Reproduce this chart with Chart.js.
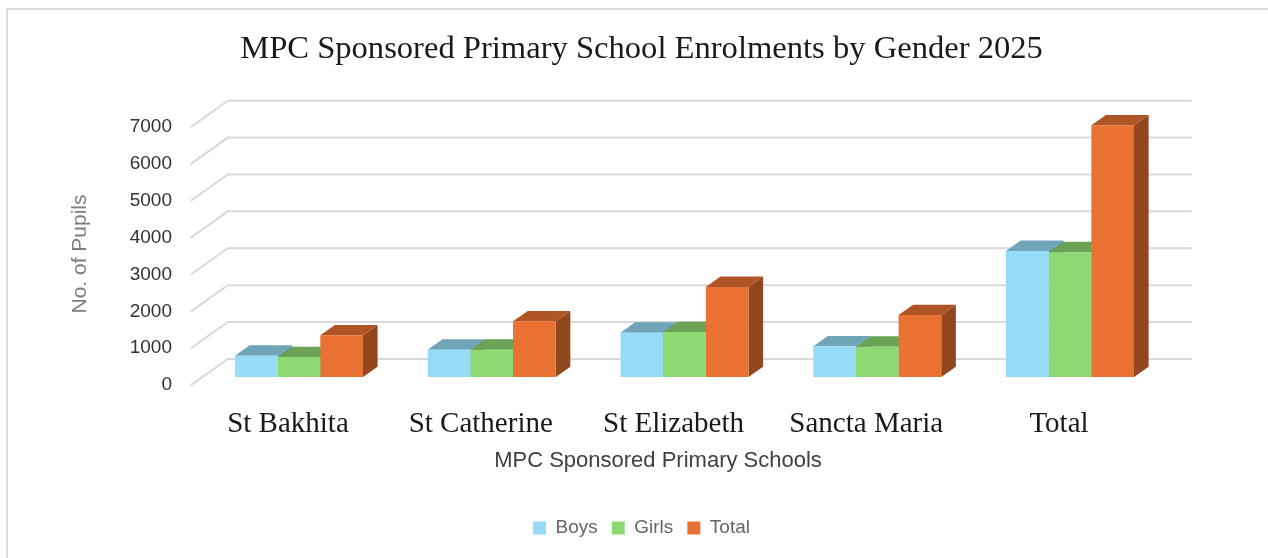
<!DOCTYPE html>
<html>
<head>
<meta charset="utf-8">
<style>
  html, body { margin: 0; padding: 0; background: #fff; }
  .frame { position: absolute; left: 6px; top: 8px; right: 0; bottom: 0; border-left: 2px solid #dcdcdc; border-top: 2px solid #dcdcdc; }
  #myChart { position: absolute; left: 0; top: 0; }
</style>
<script src="https://cdn.jsdelivr.net/npm/chart.js@4"></script>
</head>
<body>
<div class="frame"></div>
<canvas id="myChart" width="1268" height="558"></canvas>
<script>
const schools = ["St Bakhita", "St Catherine", "St Elizabeth", "Sancta Maria", "Total"];
const boys = [581, 744, 1205, 834, 3421];
const girls = [543, 744, 1222, 825, 3386];
const totals = [1132, 1512, 2444, 1683, 6826];

const SANS = '"Liberation Sans", Arial, sans-serif';
const SERIF = '"Liberation Serif", serif';

// side and top colours are the front colours in shade
const colors = {
  Boys: { front: "#95DCF7", top: "#70A5B9", side: "#5E8B9C" },
  Girls: { front: "#8ED973", top: "#6AA355", side: "#598948" },
  Total: { front: "#E97132", top: "#AF5525", side: "#93471F" },
};

// offsets from the plane the bars stand in
const barDepth = { x: 14.6, y: -10.4 };
const wallBack = { x: 25.2, y: -18.2 };
const wallFront = { x: -12, y: 8.3 };

function fillPoly(ctx, points, color) {
  ctx.fillStyle = color;
  ctx.beginPath();
  points.forEach((p, i) => (i ? ctx.lineTo(p[0], p[1]) : ctx.moveTo(p[0], p[1])));
  ctx.closePath();
  ctx.fill();
}

const depth3d = {
  id: "depth3d",
  beforeDatasetsDraw(chart) {
    const { ctx, chartArea, scales } = chart;
    ctx.save();
    // floor and back wall lines
    ctx.strokeStyle = "#d9d9d9";
    ctx.lineWidth = 2;
    scales.y.ticks.forEach((tick) => {
      const y = scales.y.getPixelForValue(tick.value);
      ctx.beginPath();
      ctx.moveTo(chartArea.left + wallFront.x, y + wallFront.y);
      ctx.lineTo(chartArea.left + wallBack.x, y + wallBack.y);
      ctx.lineTo(chartArea.right + wallBack.x, y + wallBack.y);
      ctx.stroke();
    });
    // side and top of each bar, the front face comes from chart.js
    schools.forEach((school, i) => {
      chart.data.datasets.forEach((ds, d) => {
        const bar = chart.getDatasetMeta(d).data[i];
        const c = colors[ds.label];
        const l = bar.x - bar.width / 2;
        const r = bar.x + bar.width / 2;
        const dx = barDepth.x;
        const dy = barDepth.y;
        fillPoly(ctx, [[r, bar.y], [r + dx, bar.y + dy], [r + dx, bar.base + dy], [r, bar.base]], c.side);
        fillPoly(ctx, [[l, bar.y], [l + dx, bar.y + dy], [r + dx, bar.y + dy], [r, bar.y]], c.top);
      });
    });
    ctx.restore();
  },
  afterDraw(chart) {
    const { ctx } = chart;
    ctx.save();
    ctx.textAlign = "center";
    ctx.textBaseline = "middle";
    ctx.fillStyle = "#404040";
    ctx.font = "22px " + SANS;
    ctx.fillText("MPC Sponsored Primary Schools", 658, 461);
    ctx.translate(80, 254);
    ctx.rotate(-Math.PI / 2);
    ctx.fillStyle = "#7f7f7f";
    ctx.font = "21px " + SANS;
    ctx.fillText("No. of Pupils", 0, 0);
    ctx.restore();
  },
};

const ctx = document.getElementById("myChart").getContext("2d");

const makeDataset = (label, data) => ({
  label: label,
  data: data,
  backgroundColor: colors[label].front,
  borderWidth: 0,
  barPercentage: 1,
  categoryPercentage: 0.664,
});

new Chart(ctx, {
  type: "bar",
  data: {
    labels: schools,
    datasets: [makeDataset("Boys", boys), makeDataset("Girls", girls), makeDataset("Total", totals)],
  },
  plugins: [depth3d],
  options: {
    responsive: false,
    animation: false,
    layout: { padding: { left: 15, right: 0, top: 0, bottom: 10.5 } },
    plugins: {
      title: {
        display: true,
        text: "MPC Sponsored Primary School Enrolments by Gender 2025",
        color: "#1a1a1a",
        font: { family: SERIF, size: 32.6, weight: "normal" },
        padding: { top: 29.4, bottom: 50.4 },
      },
      legend: {
        position: "bottom",
        labels: {
          boxWidth: 13,
          boxHeight: 13,
          padding: 14,
          color: "#666666",
          font: { family: SANS, size: 19 },
        },
      },
      tooltip: { enabled: false },
    },
    scales: {
      x: {
        grid: { display: false },
        border: { display: false },
        ticks: {
          color: "#1a1a1a",
          font: { family: SERIF, size: 29 },
          padding: 22.1,
          labelOffset: -11,
          maxRotation: 0,
          autoSkip: false,
        },
        afterFit: (scale) => { scale.height = 127.4; },
      },
      y: {
        min: 0,
        max: 7000,
        grid: { display: false },
        border: { display: false },
        ticks: {
          stepSize: 1000,
          callback: (value) => String(value),
          color: "#333333",
          font: { family: SANS, size: 19 },
          padding: 22.6,
          labelOffset: 8,
        },
        afterFit: (scale) => { scale.width = 187.6; },
      },
      // only keeps the room on the right of the plot for the back wall
      pad: {
        type: "linear",
        axis: "y",
        position: "right",
        grid: { display: false },
        border: { display: false },
        ticks: { display: false },
        afterFit: (scale) => { scale.width = 101.6; },
      },
    },
  },
});
</script>
</body>
</html>
